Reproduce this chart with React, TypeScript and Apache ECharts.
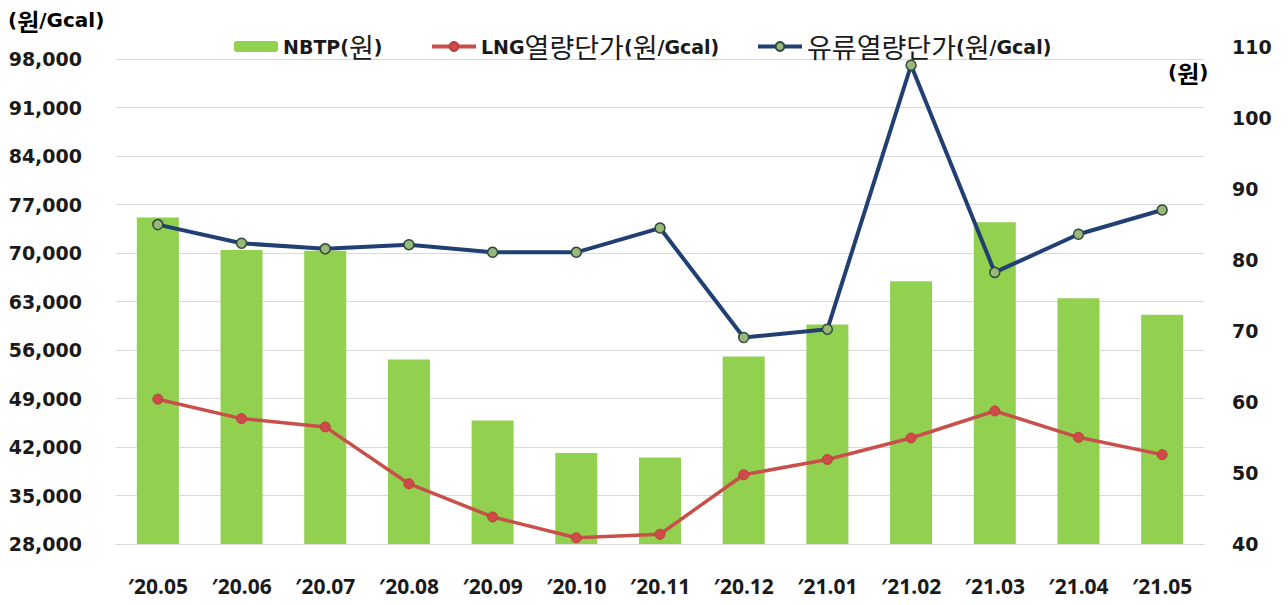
import React, { useEffect, useRef } from "react";
import * as echarts from "echarts";

const categories = ["′20.05", "′20.06", "′20.07", "′20.08", "′20.09", "′20.10", "′20.11", "′20.12", "′21.01", "′21.02", "′21.03", "′21.04", "′21.05"];
const nbtp = [86.0, 81.4, 81.3, 66.0, 57.4, 52.8, 52.2, 66.4, 70.9, 77.0, 85.3, 74.6, 72.3];
const lngPrice = [48900, 46100, 44900, 36700, 31900, 28900, 29400, 38000, 40200, 43300, 47200, 43400, 40900];
const oilPrice = [74100, 71400, 70600, 71200, 70100, 70100, 73600, 57800, 59000, 97100, 67200, 72700, 76200];

const leftTicks = { min: 28000, max: 98000, interval: 7000 };
const rightTicks = { min: 40, max: 110, interval: 10 };

const NAME_BAR = "NBTP(원)";
const NAME_LNG = "LNG열량단가(원/Gcal)";
const NAME_OIL = "유류열량단가(원/Gcal)";

const HANGUL = /([\uAC00-\uD7A3]+)/;
function toRich(s: string): string {
  return s
    .split(HANGUL)
    .filter((p) => p.length > 0)
    .map((p) => (HANGUL.test(p) ? `{ko|${p}}` : `{en|${p}}`))
    .join("");
}

const TXT = "#1a1a1a";
const richStyles = {
  en: { fontFamily: "DejaVu Sans", fontWeight: "bold", fontSize: 19, color: TXT, lineHeight: 30, verticalAlign: "middle" },
  ko: { fontFamily: "Noto Sans CJK KR", fontWeight: "normal", fontSize: 27, color: TXT, lineHeight: 30, verticalAlign: "middle" },
};
const richBold = {
  en: { fontFamily: "DejaVu Sans", fontWeight: "bold", fontSize: 20, color: TXT, lineHeight: 30, verticalAlign: "middle" },
  ko: { fontFamily: "Noto Sans CJK KR", fontWeight: "bold", fontSize: 24, color: TXT, lineHeight: 30, verticalAlign: "middle" },
};

export default function App() {
  const ref = useRef<HTMLDivElement>(null);
  useEffect(() => {
    if (!ref.current) return;
    const chart = echarts.init(ref.current, null, { renderer: "svg" });
    const legendBase = {
      top: 33,
      padding: 0,
      itemWidth: 44,
      itemHeight: 11,
      itemGap: 10,
      formatter: (n: string) => toRich(n),
      textStyle: { rich: richStyles },
    };
    const grid = { left: 116, right: 84, bottom: 61 };
    chart.setOption({
      animation: false,
      backgroundColor: "#ffffff",
      grid: [
        { ...grid, top: 59 },
        { ...grid, top: 47 },
      ],
      legend: [
        { ...legendBase, left: 234, data: [NAME_BAR] },
        { ...legendBase, left: 430, data: [NAME_LNG], lineStyle: { width: 4 } },
        { ...legendBase, left: 756, data: [NAME_OIL], lineStyle: { width: 4 } },
      ],
      graphic: [
        {
          type: "text",
          left: 8,
          top: 8,
          style: { text: toRich("(원/Gcal)"), rich: richBold },
        },
        {
          type: "text",
          left: 1168,
          top: 60,
          style: { text: toRich("(원)"), rich: richBold },
        },
      ],
      xAxis: [
        {
          type: "category",
          gridIndex: 0,
          data: categories,
          axisLine: { show: true, lineStyle: { color: "#d9d9d9", width: 1 } },
          axisTick: { show: false },
          axisLabel: {
            margin: 31,
            fontFamily: "Noto Sans",
            fontWeight: "bold",
            fontSize: 21,
            color: TXT,
          },
        },
        {
          type: "category",
          gridIndex: 1,
          data: categories,
          show: false,
        },
      ],
      yAxis: [
        {
          type: "value",
          gridIndex: 0,
          ...leftTicks,
          axisLine: { show: false },
          axisTick: { show: false },
          splitLine: { show: true, lineStyle: { color: "#d9d9d9", width: 1 } },
          axisLabel: {
            margin: 34,
            fontFamily: "DejaVu Sans",
            fontWeight: "bold",
            fontSize: 19,
            color: TXT,
            formatter: (v: number) => v.toLocaleString("en-US"),
          },
        },
        {
          type: "value",
          gridIndex: 1,
          position: "right",
          ...rightTicks,
          axisLine: { show: false },
          axisTick: { show: false },
          splitLine: { show: false },
          axisLabel: {
            margin: 28,
            fontFamily: "DejaVu Sans",
            fontWeight: "bold",
            fontSize: 19,
            color: TXT,
          },
        },
      ],
      series: [
        {
          name: NAME_BAR,
          type: "bar",
          xAxisIndex: 1,
          yAxisIndex: 1,
          data: nbtp,
          barWidth: 42,
          itemStyle: { color: "#92D050" },
          z: 1,
        },
        {
          name: NAME_LNG,
          type: "line",
          xAxisIndex: 0,
          yAxisIndex: 0,
          data: lngPrice,
          symbol: "circle",
          symbolSize: 10,
          lineStyle: { color: "#C9504A", width: 3.5 },
          itemStyle: { color: "#D04A48", borderColor: "#B84040", borderWidth: 1 },
          z: 3,
        },
        {
          name: NAME_OIL,
          type: "line",
          xAxisIndex: 0,
          yAxisIndex: 0,
          data: oilPrice,
          symbol: "circle",
          symbolSize: 10,
          lineStyle: { color: "#213F73", width: 4 },
          itemStyle: { color: "#9BB87A", borderColor: "#2D4A3A", borderWidth: 1.5 },
          z: 4,
        },
      ],
    });
    return () => chart.dispose();
  }, []);
  return (
    <div
      ref={ref}
      style={{ position: "fixed", left: 0, top: 0, width: 1288, height: 605 }}
    />
  );
}
